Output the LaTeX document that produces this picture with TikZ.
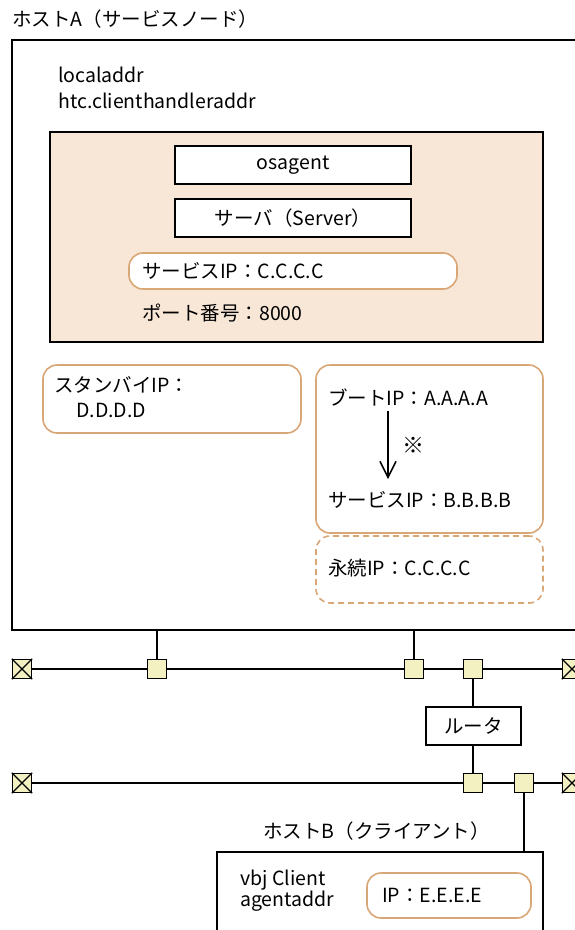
\documentclass[tikz,border=0pt]{standalone}
\usepackage{fontspec}
\setmainfont{Noto Sans CJK JP}
\usetikzlibrary{arrows.meta}
\definecolor{peach}{HTML}{F8E6D6}
\definecolor{orng}{HTML}{D9A676}
\definecolor{sqfill}{HTML}{F3F0C2}
\begin{document}
\begin{tikzpicture}[x=1pt,y=-1pt,
  every node/.style={font=\fontsize{19.5}{23}\selectfont, inner sep=0pt},
  blackbox/.style={draw=black, line width=1.3pt, fill=white},
  hostbox/.style={draw=black, line width=1.3pt},
  peachbox/.style={draw=black, line width=1.3pt, fill=peach},
  ipbox/.style={draw=orng, line width=1.6pt, rounded corners=14pt, fill=white},
  dashbox/.style={draw=orng, line width=1.6pt, rounded corners=14pt, dashed, dash pattern=on 6pt off 4pt},
  label/.style={anchor=west},
  sq/.style={draw=black, line width=1.3pt, fill=sqfill, minimum width=19pt, minimum height=19pt},
  net/.style={line width=1.3pt},
]
\useasboundingbox (0,0) rectangle (575,930);

% Host A
\node[label] (titleA) at (12,19) {ホストA（サービスノード）};
\node[hostbox, minimum width=566pt, minimum height=590pt] (hostA) at (295,335) {};
\node[label] (locA) at (58,75) {localaddr};
\node[label] (htcA) at (58,101) {htc.clienthandleraddr};

\node[peachbox, minimum width=493pt, minimum height=210pt] (peach) at (296.5,237) {};
\node[blackbox, minimum width=236pt, minimum height=38pt] (osagent) at (293,165) {osagent};
\node[blackbox, minimum width=236pt, minimum height=38pt] (server) at (293,218) {サーバ（Server）};
\node[ipbox, minimum width=328pt, minimum height=36pt] (svcC) at (293,271) {};
\node[label] (svcCt) at (142,271) {サービスIP：C.C.C.C};
\node[label] (port) at (142,313) {ポート番号：8000};

\node[ipbox, minimum width=258pt, minimum height=68pt] (standby) at (172,399) {};
\node[label] (standbyt) at (54,385) {スタンバイIP：};
\node[label] (standbyd) at (76,410) {D.D.D.D};

\node[ipbox, minimum width=227pt, minimum height=168pt] (boot) at (429.5,449) {};
\node[label] (bootA) at (328,397) {ブートIP：A.A.A.A};
\node[label] (svcB) at (328,500) {サービスIP：B.B.B.B};
\node[font=\fontsize{22}{24}\selectfont] (note) at (413,445) {※};
\coordinate (arrS) at (388,411);
\coordinate (arrE) at (388,479);
\draw[line width=1.5pt, -{Straight Barb[length=16pt,width=16pt,line width=1.5pt]}] (arrS) -- (arrE);

\node[dashbox, minimum width=227pt, minimum height=67pt] (perm) at (429.5,569.5) {};
\node[label] (permt) at (328,568) {永続IP：C.C.C.C};

% Network 1
\node[sq] (tl1) at (22,669) {};
\node[sq] (tr1) at (572,669) {};
\node[sq] (s1) at (157,669) {};
\node[sq] (s2) at (414,669) {};
\node[sq] (s3) at (473,669) {};
\draw[net] (tl1) -- (s1) -- (s2) -- (s3) -- (tr1);
\draw[net] (s1) -- (s1 |- hostA.south);
\draw[net] (s2) -- (s2 |- hostA.south);

\node[blackbox, minimum width=95pt, minimum height=38pt] (router) at (473.5,726) {ルータ};

% Network 2
\node[sq] (tl2) at (22,783) {};
\node[sq] (tr2) at (572,783) {};
\node[sq] (s4) at (473,783) {};
\node[sq] (s5) at (524,783) {};
\draw[net] (tl2) -- (s4) -- (s5) -- (tr2);
\draw[net] (s3) -- (s3 |- router.north);
\draw[net] (s4) -- (s4 |- router.south);

\foreach \t in {tl1,tr1,tl2,tr2}{
  \draw[line width=1.2pt] (\t.north west) -- (\t.south east) (\t.north east) -- (\t.south west);
}

% Host B
\node[label] (titleB) at (263,831) {ホストB（クライアント）};
\node[hostbox, minimum width=326pt, minimum height=120pt] (hostB) at (380,912) {};
\draw[net] (s5) -- (s5 |- hostB.north);
\node[label] (vbj) at (240,880) {vbj Client};
\node[label] (agent) at (240,901) {agentaddr};
\node[ipbox, minimum width=164pt, minimum height=45pt] (ipE) at (449,895.5) {};
\node[label] (ipEt) at (382,895) {IP：E.E.E.E};
\end{tikzpicture}
\end{document}
